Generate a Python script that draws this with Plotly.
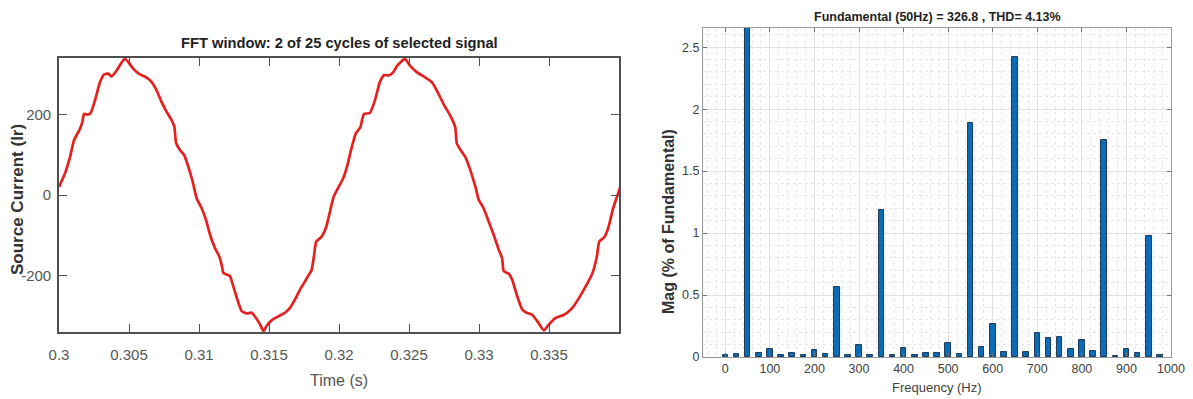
import plotly.graph_objects as go

# ---- Left panel: time-domain source current ----
time_s = [0.3000, 0.30043, 0.30079, 0.30107, 0.3015, 0.30167, 0.30179, 0.30202, 0.30226,
          0.30257, 0.30293, 0.30321, 0.30352, 0.30376, 0.30412, 0.3044, 0.30469, 0.30495,
          0.30531, 0.30579, 0.30626, 0.30662, 0.30698, 0.30733, 0.30769, 0.30805, 0.30824,
          0.30836, 0.30864, 0.30895, 0.30924, 0.30955, 0.30983, 0.31019, 0.3105, 0.31079,
          0.31114, 0.31145, 0.31162, 0.31174, 0.31198, 0.31221, 0.31245, 0.31274, 0.31305,
          0.3134, 0.31376, 0.31407, 0.31436, 0.3146, 0.31483, 0.31519, 0.31567, 0.31614,
          0.3165, 0.31686, 0.31721, 0.31757, 0.31793, 0.31805, 0.31822, 0.31837, 0.31873,
          0.31909, 0.31933, 0.31962, 0.31993, 0.32029, 0.32057, 0.32089, 0.3212, 0.32153,
          0.32167, 0.32179, 0.3222, 0.32256, 0.32292, 0.32321, 0.32359, 0.32388, 0.32416,
          0.32471, 0.32507, 0.32555, 0.32615, 0.32663, 0.32699, 0.32746, 0.32794, 0.3283,
          0.32842, 0.32878, 0.32902, 0.32938, 0.32974, 0.32998, 0.33033, 0.33069, 0.33105,
          0.33141, 0.33165, 0.33177, 0.33213, 0.33237, 0.33273, 0.33309, 0.3334, 0.3338,
          0.33416, 0.33464, 0.335, 0.33548, 0.33608, 0.33667, 0.33715, 0.33763, 0.33811,
          0.33842, 0.33859, 0.33895, 0.33926, 0.33955, 0.33986, 0.3401]
current_a = [20, 54, 95, 136, 165, 182, 202, 200, 204,
             235, 281, 300, 302, 295, 310, 326, 339, 331,
             314, 300, 292, 281, 260, 231, 207, 186, 170,
             130, 112, 99, 70, 33, -8, -33, -62, -99,
             -132, -153, -174, -194, -198, -202, -227, -260, -289,
             -295, -293, -306, -322, -339, -326, -312, -302, -293,
             -281, -260, -236, -215, -194, -186, -150, -116, -105,
             -79, -45, -4, 17, 41, 70, 116, 153, 169,
             190, 202, 204, 235, 281, 298, 298, 306, 322,
             339, 322, 306, 293, 281, 260, 227, 198, 169,
             128, 107, 95, 62, 21, -12, -33, -66, -99,
             -136, -157, -190, -196, -211, -252, -285, -293, -298,
             -314, -337, -322, -306, -298, -281, -256, -227, -194,
             -153, -116, -105, -79, -37, -4, 21]
time_ticks = [0.3, 0.305, 0.31, 0.315, 0.32, 0.325, 0.33, 0.335]
time_tick_text = ["0.3", "0.305", "0.31", "0.315", "0.32", "0.325", "0.33", "0.335"]
current_ticks = [-200, 0, 200]
current_tick_text = ["-200", "0", "200"]

# ---- Right panel: FFT spectrum (% of fundamental) ----
freq_hz = [0, 25, 50, 75, 100, 125, 150, 175, 200, 225,
           250, 275, 300, 325, 350, 375, 400, 425, 450, 475,
           500, 525, 550, 575, 600, 625, 650, 675, 700, 725,
           750, 775, 800, 825, 850, 875, 900, 925, 950, 975]
mag_pct = [0.013, 0.024, 100.0, 0.03, 0.067, 0.013, 0.03, 0.013, 0.056, 0.024,
           0.567, 0.019, 0.097, 0.019, 1.19, 0.013, 0.075, 0.019, 0.035, 0.03,
           0.11, 0.024, 1.885, 0.081, 0.27, 0.043, 2.42, 0.043, 0.19, 0.15,
           0.16, 0.067, 0.14, 0.048, 1.754, 0.008, 0.067, 0.03, 0.978, 0.019]
freq_ticks = [0, 100, 200, 300, 400, 500, 600, 700, 800, 900, 1000]
mag_ticks = [0, 0.5, 1, 1.5, 2, 2.5]
mag_tick_text = ["0", "0.5", "1", "1.5", "2", "2.5"]

W, H = 1193, 399
def px(x):
    return x / W
def py(y):
    return 1 - y / H

sans = "Liberation Sans, Arial, sans-serif"

fig = go.Figure()
fig.add_trace(go.Scatter(x=time_s, y=current_a, mode="lines",
                         line=dict(color="#e3211f", width=2.7, shape="spline", smoothing=0.5),
                         xaxis="x", yaxis="y", showlegend=False, hoverinfo="skip"))
fig.add_trace(go.Bar(x=freq_hz, y=mag_pct, width=12.5,
                     marker=dict(color="#0b6cb8", line=dict(color="#102a48", width=0.9)),
                     xaxis="x2", yaxis="y2", showlegend=False, hoverinfo="skip"))

fig.update_layout(
    width=W, height=H,
    margin=dict(l=0, r=0, t=0, b=0),
    paper_bgcolor="white", plot_bgcolor="white",
    xaxis=dict(domain=[px(59), px(619)], range=[0.3, 0.34], anchor="y", automargin=False,
               tickvals=time_ticks, ticktext=time_tick_text,
               ticks="inside", ticklen=8, tickcolor="#505050", tickwidth=1.3,
               showline=True, linecolor="#505050", linewidth=1.6, mirror="ticks",
               showgrid=False, zeroline=False, ticklabelstandoff=8,
               tickfont=dict(family=sans, size=15, color="#555555")),
    yaxis=dict(domain=[py(332), py(58)], range=[-341, 341], anchor="x", automargin=False,
               tickvals=current_ticks, ticktext=current_tick_text,
               ticks="inside", ticklen=8, tickcolor="#505050", tickwidth=1.3,
               showline=True, linecolor="#505050", linewidth=1.6, mirror="ticks",
               showgrid=False, zeroline=False, ticklabelstandoff=3,
               tickfont=dict(family=sans, size=15, color="#555555")),
    xaxis2=dict(domain=[px(703), px(1171)], range=[-50, 1000], anchor="y2", automargin=False,
                tickvals=freq_ticks,
                ticks="inside", ticklen=4, tickcolor="#707070",
                showline=True, linecolor="#9a9a9a", linewidth=1, mirror="ticks",
                showgrid=True, gridcolor="#e2e2e2", gridwidth=1, zeroline=False,
                minor=dict(dtick=20, tick0=0, showgrid=True, gridcolor="#e6e6e6",
                           griddash="dot", gridwidth=1),
                tickfont=dict(family=sans, size=12.5, color="#404040")),
    yaxis2=dict(domain=[py(357), py(28)], range=[0, 2.655], anchor="x2", automargin=False,
                tickvals=mag_ticks, ticktext=mag_tick_text,
                ticks="inside", ticklen=4, tickcolor="#707070",
                showline=True, linecolor="#9a9a9a", linewidth=1, mirror="ticks",
                showgrid=True, gridcolor="#e2e2e2", gridwidth=1, zeroline=False,
                minor=dict(dtick=0.1, tick0=0, showgrid=True, gridcolor="#e6e6e6",
                           griddash="dot", gridwidth=1),
                tickfont=dict(family=sans, size=12.5, color="#404040")),
    bargap=0,
)

ann = [
    dict(text="<b>FFT window: 2 of 25 cycles of selected signal</b>", x=px(339), y=py(43),
         font=dict(family=sans, size=14.7, color="#222222")),
    dict(text="Time (s)", x=px(339), y=py(380),
         font=dict(family=sans, size=16, color="#555555")),
    dict(text="<b>Source Current (Ir)</b>", x=px(17), y=py(200), textangle=-90,
         font=dict(family=sans, size=17, color="#333333")),
    dict(text="<b>Fundamental (50Hz) = 326.8 , THD= 4.13%</b>", x=px(937), y=py(17),
         font=dict(family=sans, size=12.5, color="#222222")),
    dict(text="Frequency (Hz)", x=px(937), y=py(387),
         font=dict(family=sans, size=13, color="#404040")),
    dict(text="<b>Mag (% of Fundamental)</b>", x=px(668), y=py(222), textangle=-90,
         font=dict(family=sans, size=16, color="#333333")),
]
for a in ann:
    a.update(xref="paper", yref="paper", showarrow=False, xanchor="center", yanchor="middle")
fig.update_layout(annotations=ann)

fig.write_html("out.html", config={"displayModeBar": False},
               post_script="document.body.style.margin='0';document.body.style.overflow='hidden';")
